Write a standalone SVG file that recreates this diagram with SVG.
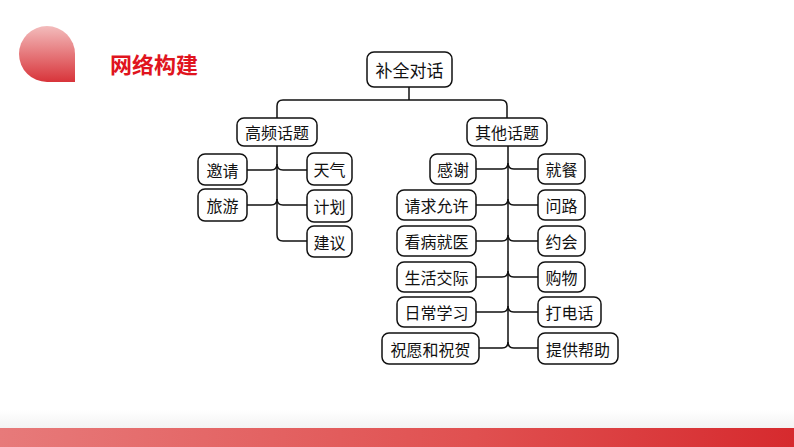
<svg xmlns="http://www.w3.org/2000/svg" width="794" height="447" viewBox="0 0 794 447">
<defs>
<linearGradient id="drop" x1="0" y1="0" x2="0" y2="1">
<stop offset="0" stop-color="#f3bcbc"/>
<stop offset="1" stop-color="#d8343a"/>
</linearGradient>
<linearGradient id="bar" x1="0" y1="0" x2="1" y2="0">
<stop offset="0" stop-color="#e77a7a"/>
<stop offset="0.6" stop-color="#e05050"/>
<stop offset="1" stop-color="#d62a2e"/>
</linearGradient>
<linearGradient id="shade" x1="0" y1="0" x2="0" y2="1">
<stop offset="0" stop-color="#ffffff"/>
<stop offset="1" stop-color="#f3f3f3"/>
</linearGradient>
<style>
.box{fill:#fff;stroke:#111;stroke-width:1.5}
.t{font-family:"Noto Sans CJK SC","Noto Sans",sans-serif;font-size:16px;fill:#111;text-anchor:middle;dominant-baseline:central}
.root{font-size:17px}
.edge{fill:none;stroke:#111;stroke-width:1.5}
.title{font-family:"Noto Sans CJK SC","Noto Sans",sans-serif;font-size:22px;font-weight:bold;fill:#e0141e}
</style>
</defs>
<rect x="0" y="0" width="794" height="447" fill="#fff"/>
<rect x="0" y="410" width="794" height="18" fill="url(#shade)"/>
<rect x="0" y="428" width="794" height="19" fill="url(#bar)"/>
<path d="M75,82 H47 A28,28 0 0 1 19,54 A28,28 0 0 1 47,26 A28,28 0 0 1 75,54 Z" fill="url(#drop)"/>
<text class="title" x="110" y="73">网络构建</text>

<g id="connectors">
<path class="edge" d="M409,87 V100"/>
<path class="edge" d="M277,118 V106 Q277,100 283,100 H501 Q507,100 507,106 V118"/>
<path class="edge" d="M277,146 V235 Q277,241 283,241 H307"/>
<path class="edge" d="M247,170 H271 Q277,170 277,164"/>
<path class="edge" d="M247,205 H271 Q277,205 277,199"/>
<path class="edge" d="M277,164 Q277,170 283,170 H307"/>
<path class="edge" d="M277,199 Q277,205 283,205 H307"/>
<path class="edge" d="M508,146 V342 Q508,348 502,348 H479"/>
<path class="edge" d="M508,342 Q508,348 514,348 H538"/>
<path class="edge" d="M476,169 H502 Q508,169 508,163 Q508,169 514,169 H538"/>
<path class="edge" d="M476,205 H502 Q508,205 508,199 Q508,205 514,205 H538"/>
<path class="edge" d="M476,241 H502 Q508,241 508,235 Q508,241 514,241 H538"/>
<path class="edge" d="M476,277 H502 Q508,277 508,271 Q508,277 514,277 H538"/>
<path class="edge" d="M476,312 H502 Q508,312 508,306 Q508,312 514,312 H538"/>
</g>

<g id="n-root"><rect class="box" x="367" y="52" width="85" height="35" rx="7"/><text class="t root" x="409.5" y="69.5">补全对话</text></g>
<g id="n-gaopin"><rect class="box" x="237" y="118" width="80" height="28" rx="7"/><text class="t" x="277" y="132">高频话题</text></g>
<g id="n-qita"><rect class="box" x="467" y="118" width="80" height="28" rx="7"/><text class="t" x="507" y="132">其他话题</text></g>

<g id="n-yaoqing"><rect class="box" x="198" y="154" width="49" height="31" rx="7"/><text class="t" x="222.5" y="169.5">邀请</text></g>
<g id="n-lvyou"><rect class="box" x="198" y="189" width="49" height="32" rx="7"/><text class="t" x="222.5" y="205">旅游</text></g>
<g id="n-tianqi"><rect class="box" x="307" y="153" width="45" height="32" rx="7"/><text class="t" x="329.5" y="169">天气</text></g>
<g id="n-jihua"><rect class="box" x="307" y="190" width="45" height="32" rx="7"/><text class="t" x="329.5" y="206">计划</text></g>
<g id="n-jianyi"><rect class="box" x="307" y="226" width="45" height="31" rx="7"/><text class="t" x="329.5" y="241.5">建议</text></g>

<g id="n-ganxie"><rect class="box" x="430" y="154" width="46" height="30" rx="7"/><text class="t" x="453" y="169">感谢</text></g>
<g id="n-qingqiu"><rect class="box" x="397" y="190" width="79" height="30" rx="7"/><text class="t" x="436.5" y="205">请求允许</text></g>
<g id="n-kanbing"><rect class="box" x="397" y="226" width="79" height="30" rx="7"/><text class="t" x="436.5" y="241">看病就医</text></g>
<g id="n-shenghuo"><rect class="box" x="397" y="262" width="79" height="30" rx="7"/><text class="t" x="436.5" y="277">生活交际</text></g>
<g id="n-richang"><rect class="box" x="397" y="297" width="79" height="30" rx="7"/><text class="t" x="436.5" y="312">日常学习</text></g>
<g id="n-zhuyuan"><rect class="box" x="382" y="333" width="97" height="31" rx="7"/><text class="t" x="430.5" y="348.5">祝愿和祝贺</text></g>

<g id="n-jiucan"><rect class="box" x="538" y="154" width="47" height="30" rx="7"/><text class="t" x="561.5" y="169">就餐</text></g>
<g id="n-wenlu"><rect class="box" x="538" y="190" width="47" height="30" rx="7"/><text class="t" x="561.5" y="205">问路</text></g>
<g id="n-yuehui"><rect class="box" x="538" y="226" width="47" height="30" rx="7"/><text class="t" x="561.5" y="241">约会</text></g>
<g id="n-gouwu"><rect class="box" x="538" y="262" width="47" height="30" rx="7"/><text class="t" x="561.5" y="277">购物</text></g>
<g id="n-dadianhua"><rect class="box" x="538" y="297" width="63" height="30" rx="7"/><text class="t" x="569.5" y="312">打电话</text></g>
<g id="n-tigong"><rect class="box" x="538" y="333" width="80" height="31" rx="7"/><text class="t" x="578" y="348.5">提供帮助</text></g>
</svg>
